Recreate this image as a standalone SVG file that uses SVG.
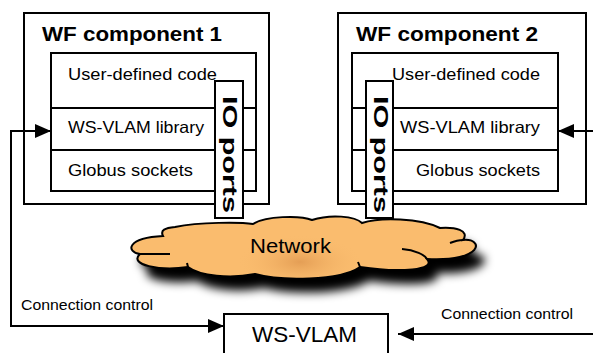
<svg xmlns="http://www.w3.org/2000/svg" width="593" height="353" viewBox="0 0 593 353">
<style>
.box{fill:#fff;stroke:#000;stroke-width:2}
.ln{fill:none;stroke:#000;stroke-width:2}
.t{font-family:"Liberation Sans",Arial,sans-serif;fill:#000}
.title{font-size:20px;font-weight:bold}
.lay{font-size:16.5px}
.io{font-size:20px;font-weight:bold}
.cc{font-size:14px}
</style>
<defs>
<marker id="ah" markerWidth="16" markerHeight="14" refX="16" refY="7" orient="auto" markerUnits="userSpaceOnUse">
<path d="M0,0 L16,7 L0,14 Z" fill="#000"/>
</marker>
<path id="cloud" d="M140,254 C126,252 126,238 163,236 C160,230 165,228 175,227 C200,222 240,222 253,224 C265,216 300,215 312,220 C330,214 355,216 362,223 C380,217 420,218 440,228 C455,227 470,230 463,240 C484,238 484,262 427,259 C437,270 400,273 360,267 C340,281 280,281 255,274 C230,279 200,276 188,267 C160,271 128,265 140,254 Z"/>
<radialGradient id="cg" cx="300" cy="262" r="45" gradientUnits="userSpaceOnUse" gradientTransform="translate(300 262) scale(1.4 0.6) translate(-300 -262)">
<stop offset="0" stop-color="#E49E55"/>
<stop offset="1" stop-color="#FABC6E" stop-opacity="0"/>
</radialGradient>
<filter id="blur" x="-20%" y="-50%" width="140%" height="200%">
<feGaussianBlur stdDeviation="5"/>
</filter>
</defs>

<g id="network">
<use href="#cloud" fill="#000" transform="translate(9,14)" filter="url(#blur)"/>
<use href="#cloud" fill="#FABC6E"/>
<use href="#cloud" fill="url(#cg)"/>
<use href="#cloud" class="ln"/>
<path class="ln" d="M140,254 L170,254 M402,249 C415,250 425,255 427,259 M450,243 C455,241 460,240 463,240 M360,267 L358,262 M188,267 L187,263"/>
<text class="t" x="250" y="253" font-size="21" textLength="81" lengthAdjust="spacingAndGlyphs">Network</text>
</g>

<g id="wf1">
<rect class="box" x="24" y="13" width="245" height="191"/>
<text class="t title" x="42" y="41" textLength="180" lengthAdjust="spacingAndGlyphs">WF component 1</text>
<rect class="box" x="51" y="53" width="205" height="138"/>
<line class="ln" x1="51" y1="108" x2="256" y2="108"/>
<line class="ln" x1="51" y1="150" x2="256" y2="150"/>
<text class="t lay" x="68" y="80" textLength="149" lengthAdjust="spacingAndGlyphs">User-defined code</text>
<text class="t lay" x="68" y="133" textLength="136" lengthAdjust="spacingAndGlyphs">WS-VLAM library</text>
<text class="t lay" x="68" y="176" textLength="125" lengthAdjust="spacingAndGlyphs">Globus sockets</text>
</g>
<g id="io1">
<rect class="box" x="215" y="81" width="28" height="137"/>
<text class="t io" transform="translate(223,96) rotate(90)" textLength="117" lengthAdjust="spacingAndGlyphs">IO ports</text>
</g>

<g id="wf2">
<rect class="box" x="338" y="13" width="248" height="191"/>
<text class="t title" x="356" y="41" textLength="182" lengthAdjust="spacingAndGlyphs">WF component 2</text>
<rect class="box" x="352" y="53" width="206" height="138"/>
<line class="ln" x1="352" y1="108" x2="558" y2="108"/>
<line class="ln" x1="352" y1="150" x2="558" y2="150"/>
<text class="t lay" x="540" y="80" text-anchor="end" textLength="148" lengthAdjust="spacingAndGlyphs">User-defined code</text>
<text class="t lay" x="540" y="133" text-anchor="end" textLength="140" lengthAdjust="spacingAndGlyphs">WS-VLAM library</text>
<text class="t lay" x="540" y="176" text-anchor="end" textLength="124" lengthAdjust="spacingAndGlyphs">Globus sockets</text>
</g>
<g id="io2">
<rect class="box" x="366" y="81" width="27" height="137"/>
<text class="t io" transform="translate(374,96) rotate(90)" textLength="117" lengthAdjust="spacingAndGlyphs">IO ports</text>
</g>

<g id="wsvlam">
<rect class="box" x="224" y="314" width="164" height="50"/>
<text class="t" x="252" y="342" font-size="22.5" textLength="105" lengthAdjust="spacingAndGlyphs">WS-VLAM</text>
</g>

<g id="connectors">
<polyline class="ln" points="11,326 11,131 51,131" marker-end="url(#ah)"/>
<line class="ln" x1="10" y1="326" x2="224" y2="326" marker-end="url(#ah)"/>
<line class="ln" x1="593" y1="131" x2="558" y2="131" marker-end="url(#ah)"/>
<line class="ln" x1="593" y1="334" x2="398" y2="334" marker-end="url(#ah)"/>
<text class="t cc" x="21" y="310" textLength="132" lengthAdjust="spacingAndGlyphs">Connection control</text>
<text class="t cc" x="441" y="319" textLength="132" lengthAdjust="spacingAndGlyphs">Connection control</text>
</g>
</svg>
